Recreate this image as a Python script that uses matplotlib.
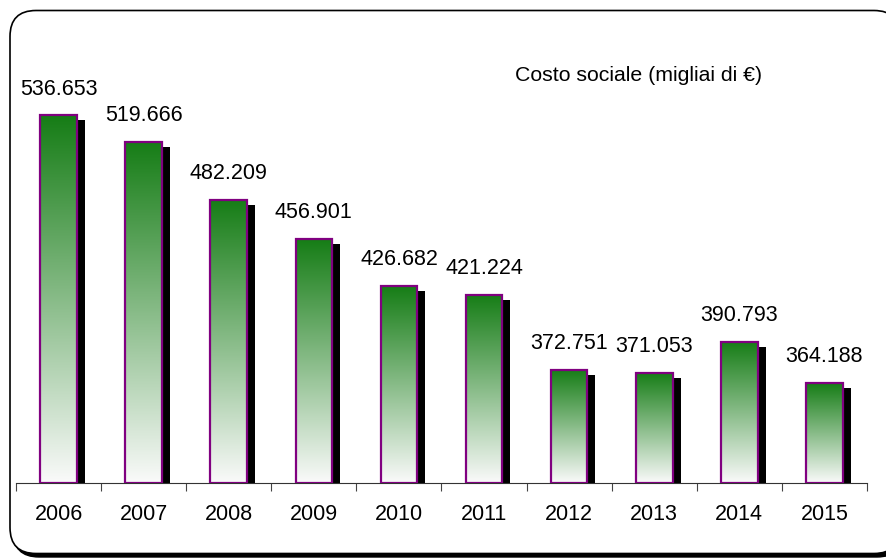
import matplotlib.pyplot as plt
import numpy as np
from matplotlib.patches import FancyBboxPatch
from matplotlib.transforms import ScaledTranslation

plt.rcParams['font.family'] = ['Liberation Sans', 'DejaVu Sans']

years = ['2006', '2007', '2008', '2009', '2010', '2011', '2012', '2013', '2014', '2015']
costs = [536.653, 519.666, 482.209, 456.901, 426.682, 421.224, 372.751, 371.053, 390.793, 364.188]
legend_text = 'Costo sociale (migliai di €)'

fig = plt.figure(figsize=(8.87, 5.58), dpi=100)

# rounded frame with shadow (coordinates in inches)
shadow = FancyBboxPatch((0.13, 0.01), 8.90, 5.43, boxstyle='round,pad=0,rounding_size=0.26',
                        transform=fig.dpi_scale_trans, facecolor='black', edgecolor='black',
                        clip_on=False, zorder=-2)
frame = FancyBboxPatch((0.10, 0.045), 8.90, 5.43, boxstyle='round,pad=0,rounding_size=0.26',
                       transform=fig.dpi_scale_trans, facecolor='white', edgecolor='black',
                       linewidth=1.2, clip_on=False, zorder=-1)
fig.add_artist(shadow)
fig.add_artist(frame)

ax = fig.add_axes([16 / 887, 75 / 558, 851 / 887, 466 / 558])
ax.set_facecolor('none')
ymin = 300
x = np.arange(len(years))
w = 0.43

# gradient: dark green at top to white at bottom
grad = np.linspace(0, 1, 256).reshape(-1, 1)
top = np.array([22, 125, 22]) / 255
bot = np.array([250, 250, 250]) / 255
img = (top[None, None, :] * grad[:, :, None] + bot[None, None, :] * (1 - grad[:, :, None]))

shift = ax.transData + ScaledTranslation(0.08, -0.05, fig.dpi_scale_trans)
for xi, v in zip(x, costs):
    ax.bar(xi, v - ymin, bottom=ymin, width=w, color='black', transform=shift, zorder=1)
    ax.imshow(img, extent=[xi - w / 2, xi + w / 2, ymin, v], origin='lower',
              aspect='auto', zorder=2)
    ax.bar(xi, v - ymin, bottom=ymin, width=w, facecolor='none', edgecolor='#800080',
           linewidth=1.6, zorder=3)
    ax.annotate(f'{v:.3f}', (xi, v), xytext=(0, 15), textcoords='offset points',
                ha='center', va='baseline', fontsize=15.5)

ax.set_xlim(-0.5, len(years) - 0.5)
ax.set_ylim(ymin, 600)

ax.set_xticks(np.arange(-0.5, len(years), 1))
ax.set_xticklabels([])
ax.set_xticks(x, minor=True)
ax.set_xticklabels(years, minor=True, fontsize=15.5)
ax.tick_params(axis='x', which='major', direction='out', length=6, color='#444444')
ax.tick_params(axis='x', which='minor', length=0, pad=15)
ax.set_yticks([])
for s in ['left', 'right', 'top']:
    ax.spines[s].set_visible(False)
ax.spines['bottom'].set_color('#333333')

fig.text(515 / 887, 1 - 81 / 558, legend_text, fontsize=15.3, ha='left', va='baseline')

fig.savefig('out.png', dpi=100)
